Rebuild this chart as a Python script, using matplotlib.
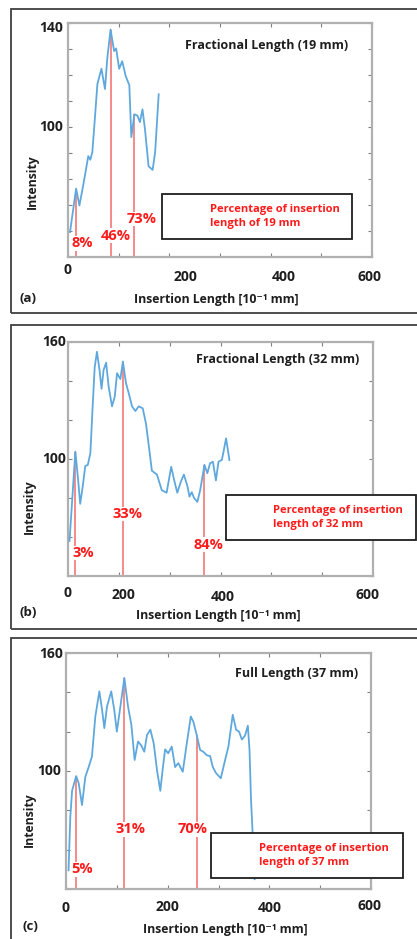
import numpy as np
import matplotlib
matplotlib.use('Agg')
import matplotlib.pyplot as plt
from matplotlib.patches import Rectangle

plt.rcParams['font.family'] = ['Open Sans', 'DejaVu Sans']
plt.rcParams['font.weight'] = 'bold'

W, H = 417, 939  # figure size in pixels

# ---- data ----
# (a) fractional length 19 mm
x_a = [4, 16, 22.5, 31, 40, 44, 48, 54, 58, 66, 73, 77.5, 84, 91, 95, 101, 107, 114, 121,
       125, 131, 137, 142, 147, 152, 159, 167, 172, 179]
y_a = [59.6, 76.3, 69.8, 78.6, 88.8, 87.4, 90.3, 105.8, 116.5, 122.4, 114.6, 126.3, 137.5,
       129.2, 130.2, 122.4, 125.3, 119.5, 116.1, 96.1, 104.9, 104.4, 101.9, 106.8, 99.0,
       84.9, 83.5, 90.3, 112.6]
mark_x_a = [16, 84, 130]
mark_y_a = [76.3, 137.5, 104.9]
pct_a = ['8%', '46%', '73%']

# (b) fractional length 32 mm
x_b = [3, 14.5, 20, 24, 29, 34, 39, 44, 48.5, 52.5, 57, 62, 66, 70, 75, 80, 86.6, 92, 96.5,
       103, 108, 114, 119.5, 126, 132.5, 139, 147, 153.5, 160, 165, 175, 184.5, 194, 203,
       209, 215, 222, 228, 235, 239, 243.5, 248, 254.5, 260, 268.5, 274, 279.5, 285, 291,
       296, 302.6, 306, 311, 317.5]
y_b = [58, 103.8, 89, 77, 86, 96.4, 97, 103, 127, 147, 155, 145.6, 136, 145.6, 149.4, 137,
       127, 132, 144, 141, 150, 139, 133.7, 127, 124.6, 127, 126, 118, 104.6, 94, 92, 84,
       82.7, 96, 89, 82.7, 88.4, 92, 86, 80.7, 83, 80, 78, 84, 97, 92.7, 97.8, 98.6, 89,
       98.6, 99.5, 103.8, 110.6, 99.5]
mark_x_b = [14.5, 108, 268.5]
mark_y_b = [103.8, 150, 97]
pct_b = ['3%', '33%', '84%']

# (c) full length 37 mm
x_c = [5, 8.5, 12, 20, 25, 31.5, 38, 44.6, 51, 57.7, 65.6, 71, 75.4, 80.7, 89, 95, 100, 107,
       114.8, 122, 128.6, 135, 141.7, 148, 154, 159.4, 166, 172.6, 179, 185.5, 190, 195,
       201, 208, 214.6, 221, 229.7, 237.6, 245.5, 250.6, 257, 263.8, 270, 277, 283.5,
       288.8, 295, 304.5, 313, 319.5, 328, 334.6, 340.5, 346, 352, 357.7, 361, 364, 367.5,
       371]
y_c = [49.5, 76.7, 90, 97.4, 93.7, 82.7, 97, 102, 107.3, 127.7, 140.5, 131, 121.8, 132.8,
       140.5, 131, 120, 132.8, 147.3, 132.8, 123.5, 105.6, 115, 113, 109.8, 118.4, 121, 114,
       100.5, 89.9, 100.5, 111, 109, 112.4, 102, 104, 99.6, 114, 127.7, 125, 118.4, 110.7,
       109.8, 108, 107.6, 102, 99, 96.3, 105.6, 112.4, 128.6, 121, 120, 116, 117.9, 123,
       110.7, 85.2, 66.5, 45]
mark_x_c = [19, 114.8, 257]
mark_y_c = [97.4, 147.3, 118.4]
pct_c = ['5%', '31%', '70%']

titles = ['Fractional Length (19 mm)', 'Fractional Length (32 mm)', 'Full Length (37 mm)']
lengths = ['19 mm', '32 mm', '37 mm']
panel_tags = ['(a)', '(b)', '(c)']
xtick_labels = ['0', '200', '400', '600']

BLUE = '#5fa8de'
RED_LINE = '#f26b6b'
RED_TXT = '#ff1a1a'
GREY = '#b0b0b0'
DARK = '#1e1e1e'

fig = plt.figure(figsize=(W / 100, H / 100), dpi=100)


def ftext(px, py, s, **kw):
    return fig.text(px / W, 1 - py / H, s, **kw)


def frect(l, t, r, b, **kw):
    rect = Rectangle((l / W, 1 - b / H), (r - l) / W, (b - t) / H,
                     transform=fig.transFigure, **kw)
    fig.patches.append(rect)
    return rect


def make_panel(box, ylim, yminor, xtick_at, xtick_drop, ytick_pos, x, y,
               mx, my, pct, pct_pos):
    l, r, t, b = box
    ax = fig.add_axes([l / W, 1 - b / H, (r - l) / W, (b - t) / H])
    ax.set_xlim(0, 600)
    ax.set_ylim(*ylim)
    ax.set_xticks([])
    ax.set_yticks([])
    ax.set_xticks(np.arange(0, 601, 100), minor=True)
    ax.set_yticks(yminor, minor=True)
    ax.tick_params(which='minor', direction='in', length=3, width=0.8, color='#808080',
                   top=True, right=True, labelbottom=False, labelleft=False)
    for sp in ax.spines.values():
        sp.set_color(GREY)
        sp.set_linewidth(1.6)

    ax.vlines(mx, ylim[0], my, color=RED_LINE, lw=1.1, zorder=2)
    ax.plot(x, y, color=BLUE, lw=1.3, zorder=3)
    for s, (tx, ty) in zip(pct, pct_pos):
        ax.text(tx, ty, s, color=RED_TXT, fontsize=10.5, fontweight='bold', ha='center',
                va='center', zorder=4,
                bbox=dict(facecolor='white', edgecolor='none', pad=0.3))

    # x tick labels (placed as in the figure)
    for s, xv, dpx in zip(xtick_labels, xtick_at, xtick_drop):
        ax.annotate(s, xy=(xv, 0), xycoords=('data', 'axes fraction'),
                    xytext=(0, -dpx * 0.72), textcoords='offset points',
                    ha='center', va='center', fontsize=10, fontweight='bold', color=DARK)
    # y tick labels
    for s, yv, dx, dy in ytick_pos:
        ax.annotate(s, xy=(0, yv), xycoords=('axes fraction', 'data'),
                    xytext=(-dx * 0.72, -dy * 0.72), textcoords='offset points',
                    ha='right', va='center', fontsize=10, fontweight='bold', color=DARK)
    return ax


# outer frames
for (t, b) in [(9, 313), (325, 629), (638, 960)]:
    frect(11, t, 430, b, facecolor='none', edgecolor='#404040', lw=1.3, zorder=0)

make_panel((68, 372, 23, 257), (50, 140), np.arange(50, 141, 10),
           [0, 232, 425, 596], [13, 20, 20, 20],
           [('140', 140, 5, 5), ('100', 100, 5, 0)],
           x_a, y_a, mark_x_a, mark_y_a, pct_a,
           [(28, 55.2), (95, 58.2), (145, 64.6)])
make_panel((68, 373, 342, 576), (40, 160), np.arange(40, 161, 20),
           [0, 110, 305, 590], [17, 19, 21, 19],
           [('160', 160, 2, 0), ('100', 100, 2, 0)],
           x_b, y_b, mark_x_b, mark_y_b, pct_b,
           [(29.5, 51.8), (118, 71.8), (276, 56)])
make_panel((66, 371, 653, 889), (40, 160), np.arange(40, 161, 20),
           [0, 200, 400, 598], [19, 18, 19, 17],
           [('160', 160, 3, 1), ('100', 100, 5, 0)],
           x_c, y_c, mark_x_c, mark_y_c, pct_c,
           [(31, 50), (126, 70.4), (249, 70.4)])

# panel titles, axis labels, tags
title_pos = [(348, 45), (359, 360), (358, 674)]
xlab_pos = [(216, 300), (218, 615), (225, 930)]
ylab_pos = [(32, 182), (29, 507), (29, 820)]
tag_pos = [(28, 298), (28, 612), (30, 926)]
for i in range(3):
    ftext(*title_pos[i], titles[i], ha='right', va='center', fontsize=9,
          fontweight='bold', color=DARK)
    ftext(*xlab_pos[i], 'Insertion Length [10\u207b\u00b9 mm]', ha='center', va='center',
          fontsize=8.8, fontweight='bold', color=DARK)
    ftext(*ylab_pos[i], 'Intensity', ha='center', va='center', rotation=90,
          fontsize=8.8, fontweight='bold', color=DARK)
    ftext(*tag_pos[i], panel_tags[i], ha='center', va='center', fontsize=9.5,
          fontweight='bold', color=DARK)

# annotation boxes
boxes = [(162, 194, 352, 239), (226, 495, 416, 540), (211, 833, 403, 878)]
box_txt_x = [210, 273, 259]
for i, (l, t, r, b) in enumerate(boxes):
    frect(l, t, r, b, facecolor='white', edgecolor=DARK, lw=1.3, zorder=5)
    ftext(box_txt_x[i], (t + b) / 2, 'Percentage of insertion\nlength of ' + lengths[i],
          ha='left', va='center', fontsize=8, fontweight='bold', color=RED_TXT,
          linespacing=1.3, zorder=6)

fig.savefig('out.png', dpi=100)
